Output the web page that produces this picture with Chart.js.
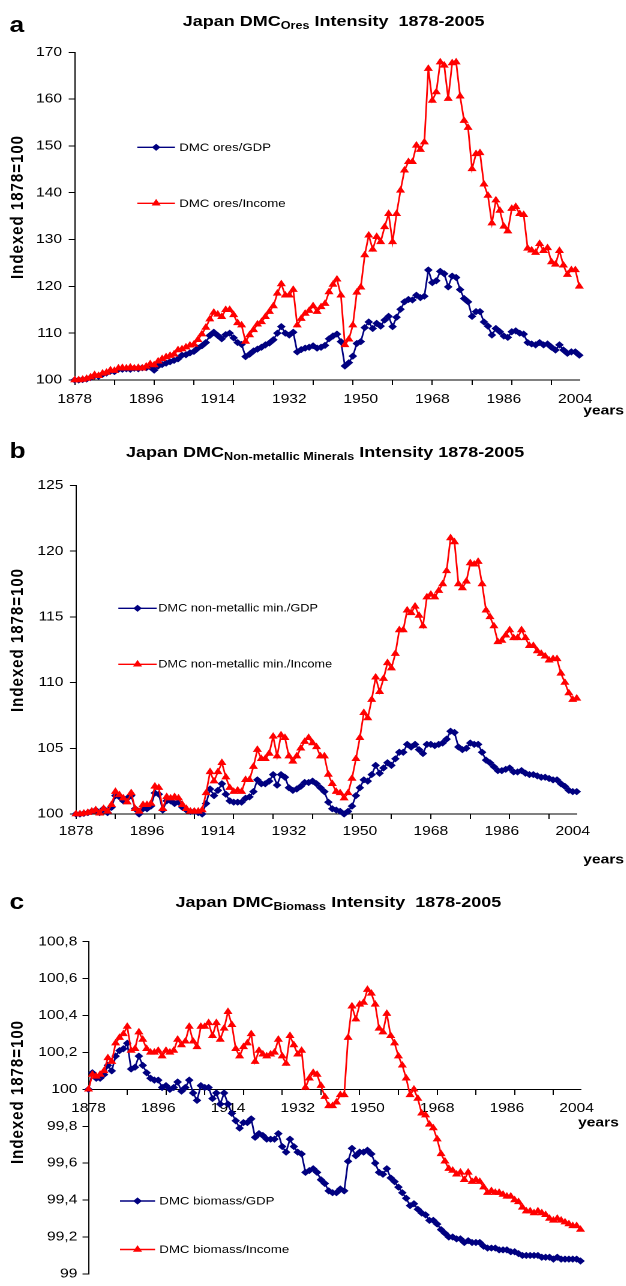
<!DOCTYPE html>
<html>
<head>
<meta charset="utf-8">
<title>Japan DMC intensity 1878-2005</title>
<script src="https://cdn.jsdelivr.net/npm/chart.js@4.4.1/dist/chart.umd.min.js"></script>
<style>
  html, body { margin: 0; padding: 0; background: #fff; }
  body { width: 626px; height: 1286px; overflow: hidden; position: relative; }
  /* the whole sheet is drawn at 5/6 width and widened back, like the original figure */
  #sheet { position: absolute; left: 0; top: 0; width: 522px; height: 1286px;
           transform: scaleX(1.2); transform-origin: 0 0;
           font-family: "Liberation Sans", Arial, sans-serif; color: #000; }
  #sheet canvas { position: absolute; left: 0; }
  .letter { position: absolute; left: 8px; font-weight: bold; font-size: 22px; line-height: 26px; }
  .title { position: absolute; font-weight: bold; font-size: 15px; line-height: 18px;
           white-space: nowrap; transform: translateX(-50%); }
  .title sub { font-size: 10.5px; vertical-align: -3px; line-height: 0; }
</style>
</head>
<body>
<div id="sheet">
  <canvas id="chartOres" width="522" height="430" style="top:0px"></canvas>
  <canvas id="chartNonMet" width="522" height="430" style="top:440px"></canvas>
  <canvas id="chartBiomass" width="522" height="406" style="top:880px"></canvas>

  <div class="letter" style="top:12px">a</div>
  <div class="title" style="left:278px;top:12px">Japan DMC<sub>Ores</sub> Intensity&nbsp; 1878-2005</div>

  <div class="letter" style="top:438px">b</div>
  <div class="title" style="left:271px;top:443px">Japan DMC<sub>Non-metallic Minerals</sub> Intensity 1878-2005</div>

  <div class="letter" style="top:889px">c</div>
  <div class="title" style="left:282px;top:893px">Japan DMC<sub>Biomass</sub> Intensity&nbsp; 1878-2005</div>
</div>

<script>
// ---- categories and axis ticks ----
const FIRST_YEAR = 1878;
const YEAR_COUNT = 128;            // 1878 ... 2005
const YEARS = [];
for (let k = 0; k < YEAR_COUNT; k++) YEARS.push(FIRST_YEAR + k);

const TICK_MARK_YEARS = [1878, 1888, 1898, 1908, 1918, 1928, 1938, 1948, 1958, 1968, 1978, 1988, 1998];
const LABEL_YEARS = [1878, 1896, 1914, 1932, 1950, 1968, 1986, 2004];

const ORES_TICKS = [100, 110, 120, 130, 140, 150, 160, 170];
const NONMET_TICKS = [100, 105, 110, 115, 120, 125];
const BIOMASS_TICKS = [99, 99.2, 99.4, 99.6, 99.8, 100, 100.2, 100.4, 100.6, 100.8];

// ---- series (index 1878 = 100) ----
const oresGdp = [
  100.0, 100.0, 100.1, 100.2, 100.5, 100.9, 100.8, 101.2, 101.5, 101.9,
  101.8, 102.3, 102.3, 102.4, 102.3, 102.5, 102.4, 102.6, 102.6, 102.8,
  102.1, 103.0, 103.3, 103.6, 103.9, 104.2, 104.5, 105.3, 105.4, 105.8,
  106.1, 106.8, 107.3, 108.0, 109.5, 110.2, 109.5, 108.8, 109.7, 110.0,
  109.0, 108.0, 107.6, 105.0, 105.5, 106.2, 106.6, 107.0, 107.5, 107.9,
  108.6, 110.0, 111.4, 110.0, 109.6, 110.2, 106.0, 106.5, 106.8, 107.0,
  107.3, 106.8, 107.0, 107.4, 108.8, 109.4, 109.8, 108.2, 103.0, 103.7,
  105.1, 107.8, 108.2, 111.2, 112.4, 111.0, 112.1, 111.5, 112.8, 113.6,
  111.4, 113.4, 115.1, 116.7, 117.2, 117.1, 118.1, 117.6, 117.9, 123.5,
  120.8, 121.2, 123.2, 122.7, 119.9, 122.2, 121.9, 119.3, 117.4, 116.7,
  113.6, 114.6, 114.6, 112.4, 111.5, 109.6, 111.0, 110.3, 109.4, 109.1,
  110.3, 110.5, 110.0, 109.8, 108.0, 107.7, 107.5, 108.0, 107.5, 107.7,
  107.0, 106.4, 107.5, 106.4, 105.7, 106.0, 106.0, 105.3
];
const oresIncome = [
  100.0, 100.0, 100.1, 100.3, 100.6, 101.1, 100.9, 101.4, 101.6, 102.1,
  102.0, 102.5, 102.6, 102.5, 102.7, 102.5, 102.6, 102.5, 102.9, 103.4,
  103.2, 104.0, 104.5, 104.9, 105.2, 105.5, 106.4, 106.6, 107.0, 107.4,
  107.6, 108.6, 109.8, 111.2, 113.0, 114.4, 114.0, 113.5, 115.0, 115.0,
  113.9, 112.2, 111.7, 108.2, 109.6, 110.7, 111.9, 112.4, 113.5, 114.6,
  115.8, 118.5, 120.5, 118.1, 118.1, 119.3, 111.7, 113.1, 114.2, 114.8,
  115.8, 114.6, 115.6, 116.3, 118.8, 120.4, 121.5, 118.1, 107.5, 108.7,
  111.7, 118.7, 119.8, 126.7, 130.9, 127.9, 130.6, 129.5, 132.7, 135.5,
  129.5, 135.5, 140.5, 144.8, 146.6, 146.6, 150.1, 149.2, 150.8, 166.5,
  159.7, 161.5, 167.9, 167.2, 160.1, 167.7, 167.9, 160.6, 155.4, 153.9,
  145.1, 148.3, 148.5, 141.8, 139.4, 133.5, 138.4, 136.2, 132.8, 131.8,
  136.6, 137.0, 135.5, 135.3, 128.1, 127.7, 127.2, 129.1, 127.6, 128.2,
  125.2, 124.7, 127.6, 124.5, 122.5, 123.5, 123.5, 120.0
];
const nonMetGdp = [
  100.0, 100.0, 100.05, 100.1, 100.2, 100.3, 100.1, 100.4, 100.1, 100.5,
  101.4, 101.3, 101.0, 101.2, 101.4, 100.4, 100.0, 100.4, 100.4, 100.6,
  101.6, 101.5, 100.3, 101.0, 101.0, 100.8, 100.9, 100.5, 100.3, 100.2,
  100.2, 100.1, 100.0, 100.8, 101.9, 101.4, 101.8, 102.3, 101.5, 101.0,
  100.9, 100.9, 100.9, 101.2, 101.3, 101.7, 102.6, 102.3, 102.3, 102.5,
  103.0, 102.2, 103.0, 102.8, 102.0, 101.8, 101.9, 102.1, 102.4, 102.4,
  102.5, 102.3, 102.0, 101.7, 100.9, 100.4, 100.3, 100.2, 100.0, 100.2,
  100.6, 101.4, 102.0, 102.6, 102.5, 103.0, 103.7, 103.1, 103.5, 103.9,
  103.7, 104.2, 104.7, 104.7, 105.3, 105.1, 105.3, 104.9, 104.6, 105.3,
  105.3, 105.2, 105.3, 105.4, 105.7, 106.3, 106.2, 105.1, 104.9, 105.0,
  105.4, 105.3, 105.3, 104.7, 104.1, 103.9, 103.6, 103.3, 103.3, 103.4,
  103.5, 103.2, 103.2, 103.3, 103.1, 103.0, 103.0, 102.9, 102.8, 102.8,
  102.7, 102.6, 102.6, 102.3, 102.1, 101.8, 101.7, 101.7
];
const nonMetIncome = [
  100.0, 100.0, 100.05, 100.1, 100.2, 100.3, 100.05, 100.4, 100.2, 100.7,
  101.7, 101.45, 101.2, 100.9, 101.6, 100.4, 100.2, 100.7, 100.7, 100.8,
  102.1, 102.0, 100.4, 101.3, 101.2, 101.3, 101.2, 100.7, 100.4, 100.2,
  100.2, 100.2, 100.3, 101.6, 103.2, 102.5, 103.2, 103.9, 102.8, 102.0,
  101.7, 101.8, 101.7, 102.6, 102.6, 103.6, 104.9, 104.2, 104.2, 104.6,
  105.9, 104.4, 106.0, 105.8, 104.4, 104.0, 104.4, 105.0, 105.5, 105.8,
  105.4, 105.1, 104.4, 104.4, 103.0, 102.3, 101.7, 101.6, 101.2, 101.6,
  102.7, 104.2, 105.8, 107.7, 107.3, 108.7, 110.4, 109.3, 110.3, 111.5,
  111.1, 112.2, 114.0, 114.0, 115.5, 115.3, 115.8, 115.1, 114.3, 116.5,
  116.7, 116.5, 117.0, 117.5, 118.5, 121.0, 120.7, 117.5, 117.2, 117.7,
  119.1, 119.0, 119.2, 117.5, 115.5, 115.0, 114.3, 113.1, 113.2, 113.6,
  114.0, 113.4, 113.4, 114.0, 113.4, 112.8, 112.8, 112.4, 112.2, 112.0,
  111.7, 111.8, 111.8, 110.7, 110.0, 109.2, 108.7, 108.8
];
const biomassGdp = [
  100.00, 100.09, 100.06, 100.06, 100.08, 100.13, 100.10, 100.18, 100.21, 100.22,
  100.25, 100.11, 100.12, 100.18, 100.13, 100.09, 100.06, 100.05, 100.05, 100.01,
  100.02, 100.00, 100.01, 100.04, 99.99, 100.01, 100.05, 99.98, 99.94, 100.02,
  100.01, 100.01, 99.95, 99.98, 99.92, 99.98, 99.92, 99.87, 99.83, 99.79,
  99.82, 99.82, 99.84, 99.74, 99.76, 99.75, 99.73, 99.73, 99.73, 99.76,
  99.69, 99.66, 99.73, 99.69, 99.66, 99.65, 99.55, 99.56, 99.57, 99.55,
  99.51, 99.49, 99.45, 99.44, 99.44, 99.46, 99.45, 99.61, 99.68, 99.64,
  99.66, 99.66, 99.67, 99.65, 99.60, 99.55, 99.54, 99.57, 99.52, 99.50,
  99.47, 99.44, 99.41, 99.37, 99.38, 99.35, 99.33, 99.32, 99.29, 99.29,
  99.27, 99.24, 99.22, 99.20, 99.20, 99.19, 99.19, 99.17, 99.18, 99.17,
  99.17, 99.17, 99.15, 99.14, 99.14, 99.14, 99.13, 99.13, 99.13, 99.12,
  99.12, 99.11, 99.10, 99.10, 99.10, 99.10, 99.10, 99.09, 99.09, 99.09,
  99.08, 99.09, 99.08, 99.08, 99.08, 99.08, 99.08, 99.07
];
const biomassIncome = [
  100.00, 100.08, 100.07, 100.08, 100.10, 100.17, 100.15, 100.25, 100.28, 100.30,
  100.34, 100.21, 100.22, 100.31, 100.27, 100.22, 100.20, 100.20, 100.21, 100.18,
  100.21, 100.20, 100.21, 100.27, 100.24, 100.26, 100.34, 100.26, 100.23, 100.34,
  100.34, 100.36, 100.29, 100.36, 100.27, 100.33, 100.42, 100.35, 100.22, 100.18,
  100.23, 100.25, 100.30, 100.15, 100.21, 100.19, 100.18, 100.19, 100.20, 100.27,
  100.18, 100.14, 100.29, 100.24, 100.19, 100.21, 100.01, 100.06, 100.09, 100.08,
  100.02, 99.96, 99.91, 99.91, 99.93, 99.97, 99.97, 100.28, 100.45, 100.38,
  100.46, 100.47, 100.54, 100.52, 100.46, 100.33, 100.31, 100.41, 100.29, 100.25,
  100.18, 100.13, 100.06, 99.97, 100.00, 99.95, 99.87, 99.86, 99.81, 99.79,
  99.73, 99.65, 99.61, 99.57, 99.56, 99.54, 99.55, 99.51, 99.55, 99.50,
  99.51, 99.50, 99.47, 99.44, 99.45, 99.44, 99.44, 99.43, 99.42, 99.42,
  99.40, 99.39, 99.36, 99.34, 99.34, 99.33, 99.34, 99.33, 99.32, 99.30,
  99.29, 99.30, 99.29, 99.28, 99.27, 99.26, 99.26, 99.24
];

// ---- shared styling ----
const FONT = '"Liberation Sans", Arial, sans-serif';
const NAVY = '#000080';
const RED = '#ff0000';
Chart.defaults.font.family = FONT;
Chart.defaults.color = '#000';

// legend samples, axis title and "years" caption drawn onto each chart
function panelDecor(spec) {
  return {
    id: 'panelDecor',
    afterDraw(chart) {
      const ctx = chart.ctx;
      ctx.save();
      spec.legend.forEach((item) => {
        const ds = chart.data.datasets[item.dataset];
        ctx.strokeStyle = ds.borderColor;
        ctx.lineWidth = ds.borderWidth;
        ctx.beginPath();
        ctx.moveTo(item.x1, item.y);
        ctx.lineTo(item.x2, item.y);
        ctx.stroke();
        ctx.fillStyle = ds.pointBackgroundColor;
        ctx.strokeStyle = ds.pointBorderColor;
        ctx.lineWidth = ds.pointBorderWidth;
        Chart.helpers.drawPoint(ctx, {
          pointStyle: ds.pointStyle, radius: ds.pointRadius, rotation: 0, borderWidth: ds.pointBorderWidth
        }, (item.x1 + item.x2) / 2, item.y);
        ctx.fillStyle = '#000';
        ctx.font = spec.legendFont + 'px ' + FONT;
        ctx.textAlign = 'left';
        ctx.textBaseline = 'middle';
        ctx.fillText(ds.label, item.textX, item.y + 0.5);
      });
      ctx.fillStyle = '#000';
      ctx.textAlign = 'center';
      ctx.textBaseline = 'middle';
      ctx.save();
      ctx.font = 'bold 15px ' + FONT;
      if ('letterSpacing' in ctx) ctx.letterSpacing = '1px';
      ctx.translate(spec.axisTitle.x, spec.axisTitle.y);
      ctx.rotate(-Math.PI / 2);
      ctx.fillText('Indexed 1878=100', 0, 0);
      ctx.restore();
      ctx.font = 'bold 13px ' + FONT;
      ctx.textAlign = 'left';
      ctx.fillText('years', spec.years.x, spec.years.y);
      ctx.restore();
    }
  };
}

function buildPanel(canvasId, spec) {
  const toPoints = (vals) => YEARS.map((yr, k) => ({ x: yr, y: vals[k] }));
  const xTickValues = Array.from(new Set(TICK_MARK_YEARS.concat(LABEL_YEARS))).sort((a, b) => a - b);
  return new Chart(document.getElementById(canvasId), {
    type: 'line',
    data: {
      datasets: [
        {
          label: spec.gdpLabel, data: toPoints(spec.gdp), order: 1,
          borderColor: NAVY, backgroundColor: NAVY, borderWidth: 1.4,
          pointStyle: 'rectRot', pointRadius: 2.9, pointBorderWidth: 1,
          pointBackgroundColor: NAVY, pointBorderColor: NAVY,
          tension: 0, fill: false, clip: false
        },
        {
          label: spec.incomeLabel, data: toPoints(spec.income), order: 0,
          borderColor: RED, backgroundColor: RED, borderWidth: 1.4,
          pointStyle: 'triangle', pointRadius: 3.4, pointBorderWidth: 1,
          pointBackgroundColor: RED, pointBorderColor: RED,
          tension: 0, fill: false, clip: false
        }
      ]
    },
    options: {
      responsive: false,
      animation: false,
      devicePixelRatio: 2,
      layout: { padding: spec.padding },
      plugins: { legend: { display: false }, tooltip: { enabled: false }, title: { display: false } },
      scales: {
        x: {
          type: 'linear', min: FIRST_YEAR, max: FIRST_YEAR + YEAR_COUNT - 1,
          position: spec.xPosition,
          afterBuildTicks: (scale) => { scale.ticks = xTickValues.map((v) => ({ value: v })); },
          afterFit: (scale) => { scale.height = spec.xHeight; },
          ticks: {
            autoSkip: false, maxRotation: 0, minRotation: 0, padding: spec.xPad,
            color: '#000', font: { size: 13, family: FONT },
            callback: (v) => (LABEL_YEARS.includes(v) ? String(v) : '')
          },
          grid: {
            drawOnChartArea: false, drawTicks: true, tickLength: 5, tickWidth: 1,
            tickColor: (c) => (c.tick && TICK_MARK_YEARS.includes(c.tick.value) ? '#000' : 'rgba(0,0,0,0)')
          },
          border: { display: true, color: '#000', width: 1 }
        },
        y: {
          type: 'linear', min: spec.yTicks[0], max: spec.yTicks[spec.yTicks.length - 1],
          afterBuildTicks: (scale) => { scale.ticks = spec.yTicks.map((v) => ({ value: v })); },
          afterFit: (scale) => { scale.width = spec.yWidth; },
          ticks: {
            padding: spec.yPad, color: '#000', font: { size: 13, family: FONT },
            callback: spec.yFormat
          },
          grid: { drawOnChartArea: false, drawTicks: true, tickLength: 5, tickWidth: 1, tickColor: '#000' },
          border: { display: true, color: '#000', width: 1 }
        }
      }
    },
    plugins: [panelDecor(spec)]
  });
}

const plainFormat = (v) => String(v);
const commaFormat = (v) => String(Math.round(v * 10) / 10).replace('.', ',');

// a: ores
buildPanel('chartOres', {
  gdp: oresGdp, income: oresIncome,
  gdpLabel: 'DMC ores/GDP', incomeLabel: 'DMC ores/Income',
  yTicks: ORES_TICKS, yFormat: plainFormat,
  padding: { top: 52.3, right: 39.25, bottom: 0, left: 0 },
  yWidth: 62.25, xHeight: 50, xPosition: 'bottom', xPad: 6.5, yPad: 5.5,
  legendFont: 11,
  legend: [
    { dataset: 0, x1: 114.4, x2: 145.8, y: 147.3, textX: 149.4 },
    { dataset: 1, x1: 114.4, x2: 145.8, y: 203.3, textX: 149.4 }
  ],
  axisTitle: { x: 15, y: 207 },
  years: { x: 486, y: 411 }
});

// b: non-metallic minerals
buildPanel('chartNonMet', {
  gdp: nonMetGdp, income: nonMetIncome,
  gdpLabel: 'DMC non-metallic min./GDP', incomeLabel: 'DMC non-metallic min./Income',
  yTicks: NONMET_TICKS, yFormat: plainFormat,
  padding: { top: 45.5, right: 41.42, bottom: 0, left: 0 },
  yWidth: 63.33, xHeight: 56, xPosition: 'bottom', xPad: 4.5, yPad: 5.5,
  legendFont: 10.6,
  legend: [
    { dataset: 0, x1: 98.6, x2: 130.6, y: 168.3, textX: 131.9 },
    { dataset: 1, x1: 98.6, x2: 130.6, y: 224.3, textX: 131.9 }
  ],
  axisTitle: { x: 15, y: 200 },
  years: { x: 486, y: 420 }
});

// c: biomass (category axis crosses at 100)
buildPanel('chartBiomass', {
  gdp: biomassGdp, income: biomassIncome,
  gdpLabel: 'DMC biomass/GDP', incomeLabel: 'DMC biomass/Income',
  yTicks: BIOMASS_TICKS, yFormat: commaFormat,
  padding: { top: 61.7, right: 38.25, bottom: 8.3, left: 0 },
  yWidth: 73.75, xHeight: 0, xPosition: { y: 100 }, xPad: 6.5, yPad: 4.3,
  legendFont: 11,
  legend: [
    { dataset: 0, x1: 100, x2: 129.2, y: 321, textX: 132.75 },
    { dataset: 1, x1: 100, x2: 129.2, y: 369.5, textX: 132.75 }
  ],
  axisTitle: { x: 15, y: 212 },
  years: { x: 481.7, y: 243 }
});
</script>
</body>
</html>
